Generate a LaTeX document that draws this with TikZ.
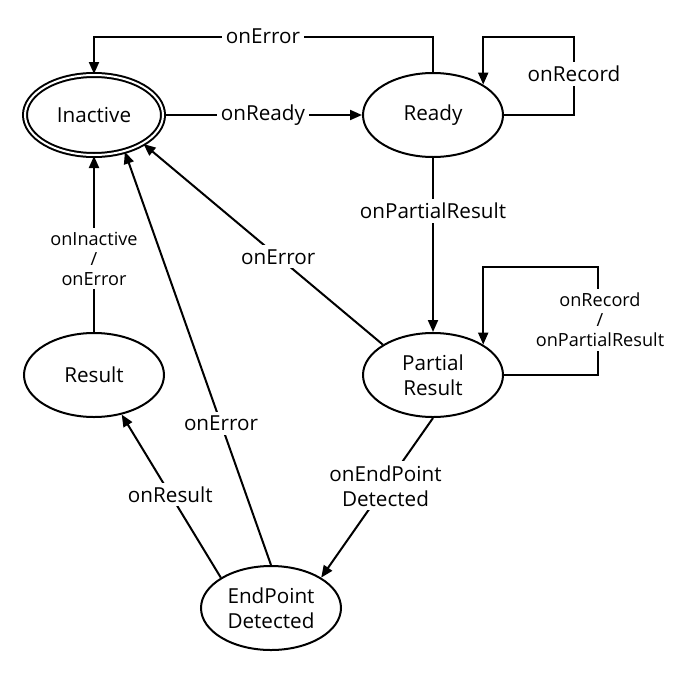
\documentclass[tikz,border=0pt]{standalone}
\usepackage{fontspec}
\setmainfont{Open Sans}
\usetikzlibrary{arrows.meta,shapes.geometric}
\begin{document}
\begin{tikzpicture}[x=0.75pt,y=-0.75pt,
  state/.style={draw, ellipse, line width=1.5pt, minimum width=105pt, minimum height=63pt,
    inner sep=0pt, align=center, font=\fontsize{15.5}{18.75}\selectfont},
  edge/.style={line width=1.5pt, -{Triangle[length=9pt,width=7.5pt]}},
  lbl/.style={fill=white, inner sep=3pt, align=center, font=\fontsize{15.5}{18.75}\selectfont},
  small/.style={font=\fontsize{13.6}{15}\selectfont}]
\useasboundingbox (0,0) rectangle (681,675);
\fill[white] (0,0) rectangle (681,675);

\node[state, double, double distance=1.5pt, minimum width=103.5pt, minimum height=60pt] (inactive) at (94,115) {Inactive};
\node[state] (ready) at (433,115) {Ready};
\node[state] (result) at (94,375) {Result};
\node[state] (partial) at (433,375) {Partial\\Result};
\node[state] (endpoint) at (271,608) {EndPoint\\Detected};

\coordinate (top) at (0,37);
\coordinate (ptop) at (0,267);
\coordinate (rloop) at (574,0);
\coordinate (ploop) at (598,0);

% Ready -> Inactive (onError)
\draw[edge] (ready.north) |- (inactive.north |- top) -- (inactive.north);
\node[lbl] (lerr1) at (263,36) {onError};

% Inactive -> Ready
\draw[edge] (inactive.east) -- node[lbl] {onReady} (ready.west);

% Ready self loop
\draw[edge] (ready.east) -- (ready.east -| rloop) |- (ready.north east |- top) -- (ready.north east);
\node[lbl] (lrec) at (574,74) {onRecord};

% Ready -> Partial
\draw[edge] (ready.south) -- node[lbl, pos=0.305] {onPartialResult} (partial.north);

% Partial self loop
\draw[edge] (partial.east) -- (partial.east -| ploop) |- (partial.north east |- ptop) -- (partial.north east);
\node[lbl, small] (lprec) at (600,320) {onRecord\\/\\onPartialResult};

% Partial -> Inactive
\draw[edge] (partial.north west) -- node[lbl, pos=0.437] {onError} (inactive.south east);

% Result -> Inactive
\draw[edge] (result.north) -- node[lbl, small, pos=0.417] {onInactive\\/\\onError} (inactive.south);

% EndPoint -> Inactive
\draw[edge] (endpoint.north) -- node[lbl, pos=0.342] {onError} (inactive.-50);

% EndPoint -> Result
\draw[edge] (endpoint.north west) -- node[lbl, pos=0.51] {onResult} (result.-55);

% Partial -> EndPoint
\draw[edge] (partial.south) -- node[lbl, pos=0.425] {onEndPoint\\Detected} (endpoint.north east);
\end{tikzpicture}
\end{document}
